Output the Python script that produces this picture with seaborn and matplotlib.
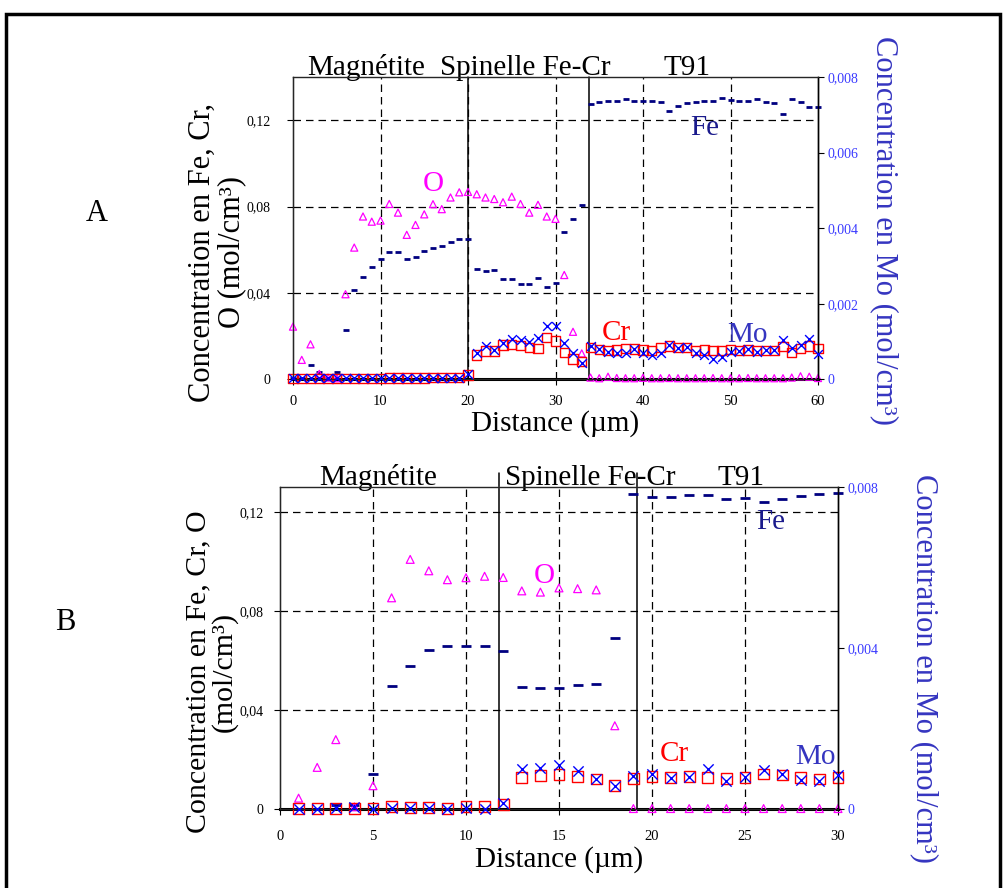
import numpy as np
import pandas as pd
import matplotlib.pyplot as plt
import seaborn as sns
from matplotlib.patches import Rectangle

sns.set_style("ticks")
plt.rcParams['font.family'] = ['Liberation Serif', 'DejaVu Serif']
plt.rcParams['text.color'] = 'black'
plt.rcParams['axes.labelcolor'] = 'black'
plt.rcParams['xtick.color'] = 'black'
plt.rcParams['ytick.color'] = 'black'

# ---- Panel A data (distance in um, concentrations in mol/cm3) ----
dist_a = np.arange(0, 61)
fe_a = [0.0005, 0.0005, 0.0065, 0.0032, 0.0005, 0.0032, 0.0227, 0.0414, 0.0473, 0.0520,
        0.0559, 0.0590, 0.0590, 0.0559, 0.0568, 0.0593, 0.0607, 0.0616, 0.0636, 0.0650,
        0.0650, 0.0511, 0.0503, 0.0507, 0.0466, 0.0466, 0.0443, 0.0443, 0.0468, 0.0426,
        0.0448, 0.0681, 0.0743, 0.0805, 0.1276, 0.1282, 0.1288, 0.1291, 0.1299, 0.1287,
        0.1287, 0.1291, 0.1283, 0.1242, 0.1266, 0.1279, 0.1283, 0.1288, 0.1291, 0.1305,
        0.1294, 0.1291, 0.1291, 0.1300, 0.1282, 0.1279, 0.1230, 0.1297, 0.1285, 0.1263,
        0.1263]
o_a = [0.0244, 0.0090, 0.0162, 0.0025, 0.0008, 0.0005, 0.0394, 0.0610, 0.0754, 0.0730,
       0.0735, 0.0812, 0.0772, 0.0669, 0.0715, 0.0764, 0.0811, 0.0788, 0.0842, 0.0866,
       0.0868, 0.0857, 0.0842, 0.0835, 0.0820, 0.0846, 0.0812, 0.0772, 0.0808, 0.0754,
       0.0743, 0.0483, 0.0220, 0.0120, 0.0008, 0.0005, 0.0012, 0.0006, 0.0005, 0.0005,
       0.0007, 0.0005, 0.0005, 0.0006, 0.0005, 0.0005, 0.0005, 0.0005, 0.0006, 0.0005,
       0.0005, 0.0005, 0.0006, 0.0005, 0.0005, 0.0005, 0.0005, 0.0008, 0.0014, 0.0012,
       0.0006]
cr_a = [0.0004, 0.0004, 0.0004, 0.0005, 0.0005, 0.0005, 0.0005, 0.0005, 0.0005, 0.0005,
        0.0005, 0.0006, 0.0006, 0.0006, 0.0006, 0.0006, 0.0007, 0.0007, 0.0007, 0.0008,
        0.0020, 0.0113, 0.0131, 0.0131, 0.0159, 0.0162, 0.0156, 0.0148, 0.0142, 0.0195,
        0.0177, 0.0125, 0.0094, 0.0082, 0.0148, 0.0139, 0.0133, 0.0136, 0.0144, 0.0141,
        0.0136, 0.0133, 0.0148, 0.0154, 0.0148, 0.0148, 0.0133, 0.0136, 0.0133, 0.0133,
        0.0139, 0.0133, 0.0136, 0.0133, 0.0133, 0.0133, 0.0151, 0.0125, 0.0144, 0.0154,
        0.0142]
mo_a = [0.00003, 0.00003, 0.00003, 0.00003, 0.00003, 0.00003, 0.00003, 0.00003, 0.00003, 0.00003,
        0.00003, 0.00003, 0.00003, 0.00003, 0.00003, 0.00003, 0.00003, 0.00003, 0.00003, 0.00003,
        0.00013, 0.00069, 0.00089, 0.00078, 0.00095, 0.00107, 0.00104, 0.00098, 0.00110, 0.00142,
        0.00142, 0.00095, 0.00070, 0.00044, 0.00087, 0.00080, 0.00073, 0.00069, 0.00069, 0.00080,
        0.00069, 0.00065, 0.00069, 0.00091, 0.00082, 0.00085, 0.00069, 0.00065, 0.00054, 0.00058,
        0.00071, 0.00076, 0.00080, 0.00071, 0.00078, 0.00078, 0.00103, 0.00082, 0.00091, 0.00106,
        0.00067]

# ---- Panel B data ----
dist_b = np.arange(1, 31)
fe_b = [0.0002, 0.0002, 0.0018, 0.0018, 0.0143, 0.0497, 0.0577, 0.0642, 0.0657, 0.0657,
        0.0657, 0.0639, 0.0493, 0.0488, 0.0488, 0.0500, 0.0504, 0.0692, 0.1273, 0.1260,
        0.1261, 0.1268, 0.1266, 0.1250, 0.1257, 0.1239, 0.1250, 0.1264, 0.1270, 0.1277]
o_b = [0.0045, 0.0169, 0.0281, 0.0010, 0.0095, 0.0853, 0.1008, 0.0962, 0.0926, 0.0934,
       0.0940, 0.0935, 0.0881, 0.0876, 0.0893, 0.0890, 0.0885, 0.0337, 0.0003, 0.0003,
       0.0003, 0.0003, 0.0003, 0.0003, 0.0003, 0.0003, 0.0003, 0.0003, 0.0003, 0.0003]
cr_b = [0.0002, 0.0003, 0.0003, 0.0004, 0.0004, 0.0010, 0.0008, 0.0008, 0.0004, 0.0010,
        0.0010, 0.0020, 0.0128, 0.0136, 0.0139, 0.0132, 0.0122, 0.0097, 0.0124, 0.0132,
        0.0128, 0.0132, 0.0128, 0.0124, 0.0128, 0.0142, 0.0138, 0.0128, 0.0122, 0.0128]
mo_b = [0.0, 0.0, 0.00003, 0.00005, 0.0, 0.00003, 0.00004, 0.00004, 0.0, 0.00004,
        0.0, 0.00015, 0.00101, 0.00103, 0.00110, 0.00095, 0.00076, 0.00058, 0.00083, 0.00087,
        0.00078, 0.00081, 0.00099, 0.00070, 0.00081, 0.00097, 0.00087, 0.00073, 0.00070, 0.00084]

# layer boundaries and names
layers = ["Magnétite", "Spinelle Fe-Cr", "T91"]
bounds_a = [20, 33.8]
bounds_b = [11.8, 19.2]
layer_pos_a = [8.3, 26.5, 45.0]
layer_pos_b = [5.3, 16.7, 24.8]

xticks_a = [0, 10, 20, 30, 40, 50, 60]
xticks_b = [0, 5, 10, 15, 20, 25, 30]
yticks_a = [0, 0.04, 0.08, 0.12]
ylabels_a = ["0", "0,04", "0,08", "0,12"]
y2ticks_a = [0, 0.002, 0.004, 0.006, 0.008]
y2labels_a = ["0", "0,002", "0,004", "0,006", "0,008"]
y2ticks_b = [0, 0.004, 0.008]
y2labels_b = ["0", "0,004", "0,008"]

C_FE, C_O, C_CR, C_MO = "#000080", "#ff00ff", "#ff0000", "#0000ff"
C_LAB = "#3535c0"

fig = plt.figure(figsize=(10.05, 8.88), dpi=100)
fig.patches.append(Rectangle((6 / 1005, -0.1), 994 / 1005, 1.1 - 14 / 888,
                             transform=fig.transFigure, fill=False, lw=2.5,
                             edgecolor="black", zorder=0))


def draw_panel(rect, dist, fe, o, cr, mo, xticks, xlim, ylim, y2ticks, y2labels,
               bounds, layer_pos, ms, bound_top, xpad, ypad):
    ax = fig.add_axes(rect)
    grid = dict(color="black", lw=0.9, ls=(0, (6, 4)), zorder=0)
    for v in yticks_a[1:]:
        ax.axhline(v, **grid)
    for v in xticks[1:-1]:
        ax.axvline(v, **grid)
    for b in bounds:
        ax.plot([b, b], [0, bound_top], color="black", lw=1.1, clip_on=False, zorder=1)

    sns.scatterplot(x=dist, y=fe, ax=ax, marker="_", s=ms["fe"], color=C_FE,
                    linewidth=2.0, clip_on=False, zorder=3)
    sns.scatterplot(x=dist, y=o, ax=ax, marker="^", s=ms["o"], facecolor="none",
                    edgecolor=C_O, linewidth=0.9, clip_on=False, zorder=3)
    sns.scatterplot(x=dist, y=cr, ax=ax, marker="s", s=ms["cr"], facecolor="none",
                    edgecolor=C_CR, linewidth=1.0, clip_on=False, zorder=3)

    ax.set_xlim(*xlim)
    ax.set_ylim(*ylim)
    ax.set_xticks(xticks)
    ax.set_xticklabels([str(t) for t in xticks])
    ax.set_yticks(yticks_a)
    ax.set_yticklabels(ylabels_a)
    ax.tick_params(axis="y", length=4, pad=ypad, labelsize=10, width=0.8)
    ax.tick_params(axis="x", length=4, pad=xpad, labelsize=10.5, width=0.8)
    for s in ["left", "right", "top"]:
        ax.spines[s].set_linewidth(1.0)
        ax.spines[s].set_color("black")
    ax.spines["top"].set_color("#555555")
    ax.spines["bottom"].set_linewidth(2.2)
    ax.spines["bottom"].set_color("black")
    ax.set_xlabel("Distance (µm)", fontsize=21, labelpad=2)
    ax.set_ylabel("")

    ax2 = ax.twinx()
    sns.scatterplot(x=dist, y=mo, ax=ax2, marker="x", s=ms["mo"], color=C_MO,
                    linewidth=1.0, clip_on=False, zorder=4)
    ax2.set_ylim(0, 0.008)
    ax2.set_yticks(y2ticks)
    ax2.set_yticklabels(y2labels)
    ax2.tick_params(axis="y", length=4, pad=3, labelsize=10, labelcolor="#3a3aff",
                    width=0.8, color="black")
    ax2.spines["right"].set_linewidth(1.0)
    ax2.spines["right"].set_color("black")
    ax2.set_ylabel("")
    for name, xp in zip(layers, layer_pos):
        ax.text(xp, 1.007, name, transform=ax.get_xaxis_transform(), ha="center",
                va="baseline", fontsize=21, color="black")
    return ax


ax_a = draw_panel([293 / 1005, 1 - 379.3 / 888, 525 / 1005, 302.3 / 888],
                  dist_a, fe_a, o_a, cr_a, mo_a, xticks_a, (0, 60), (0, 0.14),
                  y2ticks_a, y2labels_a, bounds_a, layer_pos_a,
                  dict(fe=24, o=26, cr=45, mo=40), 0.14, 7, 12)
ax_b = draw_panel([280 / 1005, 1 - 809.3 / 888, 558 / 1005, 322.3 / 888],
                  dist_b, fe_b, o_b, cr_b, mo_b, xticks_b, (0, 30), (0, 0.13),
                  y2ticks_b, y2labels_b, bounds_b, layer_pos_b,
                  dict(fe=55, o=32, cr=60, mo=55), 0.1355, 11, 8)

# series labels inside plots
ann = [(ax_a, 16.0, 0.0905, "O", C_O), (ax_a, 47.1, 0.1165, "Fe", "#1a1a8c"),
       (ax_a, 37.0, 0.0215, "Cr", C_CR), (ax_a, 51.9, 0.0206, "Mo", C_LAB),
       (ax_b, 14.2, 0.0941, "O", C_O), (ax_b, 26.4, 0.1160, "Fe", "#1a1a8c"),
       (ax_b, 21.2, 0.0224, "Cr", C_CR), (ax_b, 28.8, 0.0209, "Mo", C_LAB)]
for ax, xp, yp, t, c in ann:
    ax.text(xp, yp, t, color=c, fontsize=21, ha="center", va="center")

# axis titles
fig.text(217 / 1005, 1 - 252 / 888, "Concentration en Fe, Cr,\nO (mol/cm³)", rotation=90,
         ha="center", va="center", fontsize=22, linespacing=1.0)
fig.text(884 / 1005, 1 - 230 / 888, "Concentration en Mo (mol/cm³)", rotation=270,
         ha="center", va="center", fontsize=22, color=C_LAB)
fig.text(198 / 1005, 1 - 672 / 888, "Concentration en Fe, Cr, O", rotation=90,
         ha="center", va="center", fontsize=21.5)
fig.text(224 / 1005, 1 - 672 / 888, "(mol/cm³)", rotation=90,
         ha="center", va="center", fontsize=21.5)
fig.text(924 / 1005, 1 - 668 / 888, "Concentration en Mo (mol/cm³)", rotation=270,
         ha="center", va="center", fontsize=22, color=C_LAB)

fig.text(97 / 1005, 1 - 213 / 888, "A", ha="center", va="center", fontsize=22)
fig.text(65 / 1005, 1 - 623 / 888, "B", ha="center", va="center", fontsize=22)

fig.savefig("out.png", dpi=100)
